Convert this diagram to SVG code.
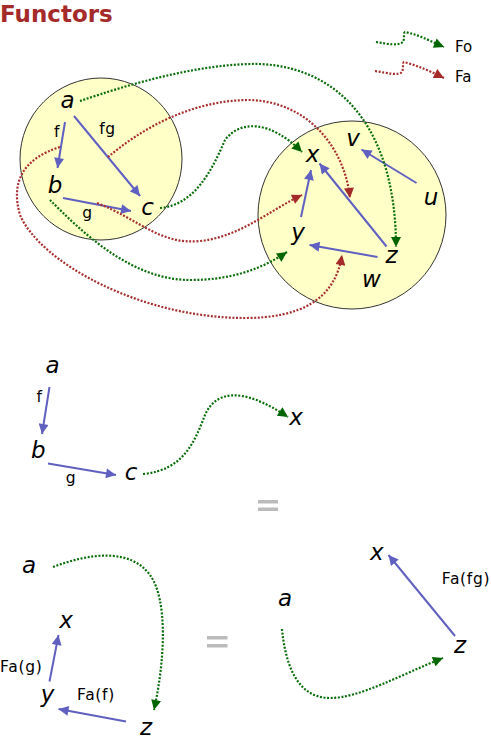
<svg xmlns="http://www.w3.org/2000/svg" width="491" height="751" viewBox="0 0 491 751">
<style>
.cat{fill:#ffffc8;stroke:#333;stroke-width:1}
.obj{font-family:"DejaVu Sans",sans-serif;font-style:italic;font-size:23px;fill:#000;text-anchor:middle}
.lbl{font-family:"DejaVu Sans",sans-serif;font-size:15.5px;fill:#000;text-anchor:middle;letter-spacing:0.7px}
.leg{font-family:"DejaVu Sans",sans-serif;font-size:15px;fill:#000}
.mor{stroke:#6060c0;stroke-width:2;fill:none;marker-end:url(#ab)}
.fo{stroke:#0b6e0b;stroke-width:2.2;fill:none;stroke-dasharray:2 1.6;marker-end:url(#ag)}
.fa{stroke:#a83030;stroke-width:2.2;fill:none;stroke-dasharray:2 1.6;marker-end:url(#ar)}
.eq{fill:#bbb}
</style>
<defs>
<marker id="ab" viewBox="0 0 10 10" refX="10" refY="5" markerWidth="11" markerHeight="10" orient="auto" markerUnits="userSpaceOnUse"><path d="M0,0 L10,5 L0,10 z" fill="#6060c0"/></marker>
<marker id="ag" viewBox="0 0 10 10" refX="10" refY="5" markerWidth="11" markerHeight="10" orient="auto" markerUnits="userSpaceOnUse"><path d="M0,0 L10,5 L0,10 z" fill="#006400"/></marker>
<marker id="ar" viewBox="0 0 10 10" refX="10" refY="5" markerWidth="11" markerHeight="10" orient="auto" markerUnits="userSpaceOnUse"><path d="M0,0 L10,5 L0,10 z" fill="#a52a2a"/></marker>
</defs>
<text x="0" y="22" font-family="DejaVu Sans, sans-serif" font-weight="bold" font-size="23" fill="#a52a2a">Functors</text>

<g id="catC"><circle class="cat" cx="101" cy="159" r="81"/></g>
<g id="catD"><circle class="cat" cx="352" cy="215" r="94"/></g>

<g id="connectors">
<!-- morphisms in C -->
<line class="mor" x1="65" y1="122" x2="57.5" y2="168"/>
<line class="mor" x1="74" y1="116" x2="140" y2="196"/>
<line class="mor" x1="63" y1="198" x2="131" y2="211"/>
<!-- morphisms in D -->
<line class="mor" x1="416.5" y1="183" x2="361.5" y2="149.5"/>
<line class="mor" x1="301" y1="217" x2="311" y2="170"/>
<line class="mor" x1="386.5" y1="246.5" x2="319.5" y2="163.5"/>
<line class="mor" x1="377.5" y1="257" x2="309.5" y2="245"/>
<!-- functor on objects -->
<path class="fo" d="M80,101 C130,84 200,63 260,64 C345,68 396,135 396,247"/>
<path class="fo" d="M160,208 C195,205 212,170 225,140 C240,120 270,120 302,152"/>
<path class="fo" d="M50,200 C80,230 130,280 190,280 C230,280 260,270 287,252"/>
<!-- functor on arrows -->
<path class="fa" d="M108,157 C140,130 190,100 250,100 C310,102 345,150 350,198"/>
<path class="fa" d="M97,203 C140,220 160,245 200,241 C240,237 270,210 302,195"/>
<path class="fa" d="M60,147 C25,158 10,180 20,215 C40,262 140,318 245,318 C300,318 335,300 342,255"/>
<!-- legend -->
<path class="fo" d="M376,42 C388,44 398,46 403,42 C405,38 403,33 405,32 C420,35 432,42 444,47"/>
<path class="fa" d="M375,71 C388,73 398,76 402,72 C404,68 402,63 404,62 C419,66 432,72 444,78"/>
<!-- middle composite -->
<line class="mor" x1="49.5" y1="387" x2="42" y2="434"/>
<line class="mor" x1="48" y1="463.5" x2="116" y2="475"/>
<path class="fo" d="M143,474 C185,470 195,440 205,415 C215,392 240,385 288,417"/>
<!-- bottom left -->
<line class="mor" x1="49.5" y1="681.5" x2="58.5" y2="635"/>
<line class="mor" x1="126" y1="721.5" x2="58.5" y2="709"/>
<path class="fo" d="M53,567 C90,553 130,548 150,575 C168,600 165,660 154,710"/>
<!-- bottom right -->
<line class="mor" x1="455" y1="636" x2="388.5" y2="555"/>
<path class="fo" d="M282,629 C285,660 295,698 330,698 C360,698 400,675 443,658"/>
</g>

<g id="node-a"><text class="obj" x="67.5" y="108">a</text></g>
<g id="node-b"><text class="obj" x="55" y="193">b</text></g>
<g id="node-c"><text class="obj" x="147.5" y="215">c</text></g>
<g id="label-f"><text class="lbl" x="57" y="137">f</text></g>
<g id="label-fg"><text class="lbl" x="107.5" y="134">fg</text></g>
<g id="label-g"><text class="lbl" x="87.5" y="218">g</text></g>

<g id="node-x"><text class="obj" x="312.5" y="162">x</text></g>
<g id="node-v"><text class="obj" x="353" y="146">v</text></g>
<g id="node-u"><text class="obj" x="431" y="205">u</text></g>
<g id="node-y"><text class="obj" x="298" y="240">y</text></g>
<g id="node-z"><text class="obj" x="391.5" y="263">z</text></g>
<g id="node-w"><text class="obj" x="371.5" y="287">w</text></g>

<g id="legend">
<text class="leg" x="455" y="52">Fo</text>
<text class="leg" x="455" y="82">Fa</text>
</g>

<g id="mid">
<text class="obj" x="52.5" y="373">a</text>
<text class="lbl" x="39.5" y="402">f</text>
<text class="obj" x="38.3" y="458">b</text>
<text class="lbl" x="71" y="483">g</text>
<text class="obj" x="131" y="480">c</text>
<text class="obj" x="296" y="425">x</text>
</g>
<g id="eq1"><rect class="eq" x="258" y="500" width="20" height="3.5"/><rect class="eq" x="258" y="507.5" width="20" height="3.5"/></g>
<g id="eq2"><rect class="eq" x="207" y="636" width="20.5" height="3.5"/><rect class="eq" x="207" y="644" width="20.5" height="3.5"/></g>

<g id="bottom-left">
<text class="obj" x="29" y="573">a</text>
<text class="obj" x="66" y="628">x</text>
<text class="lbl" x="21.3" y="672">Fa(g)</text>
<text class="obj" x="47.5" y="702">y</text>
<text class="lbl" x="96" y="700">Fa(f)</text>
<text class="obj" x="146" y="735">z</text>
</g>
<g id="bottom-right">
<text class="obj" x="376.7" y="560">x</text>
<text class="lbl" x="466" y="584">Fa(fg)</text>
<text class="obj" x="285" y="606">a</text>
<text class="obj" x="460" y="653">z</text>
</g>
</svg>
